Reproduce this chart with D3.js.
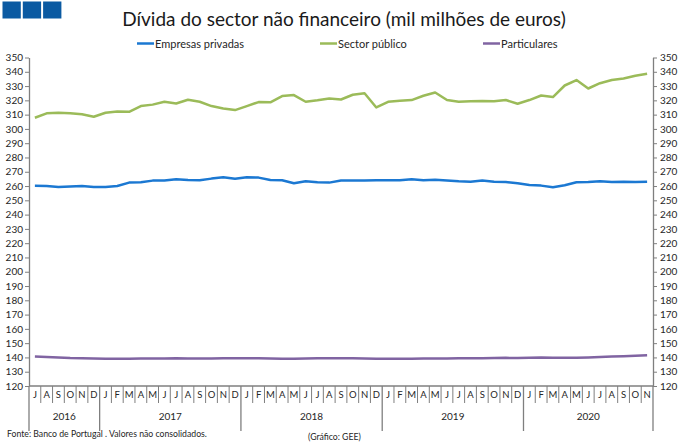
<!DOCTYPE html>
<html><head><meta charset="utf-8">
<script src="https://cdn.jsdelivr.net/npm/d3@7"></script>
<style>body{margin:0;background:#fff}svg{display:block;font-family:Lato,"Open Sans",sans-serif}</style>
</head><body><svg id="c" width="681" height="445"></svg>
<script>
const months = ["J","A","S","O","N","D",
 "J","F","M","A","M","J","J","A","S","O","N","D",
 "J","F","M","A","M","J","J","A","S","O","N","D",
 "J","F","M","A","M","J","J","A","S","O","N","D",
 "J","F","M","A","M","J","J","A","S","O","N"];
const years = ["2016","2017","2018","2019","2020"];
const yearCounts = [6,12,12,12,11];
const empresas = [260.2,260.1,259.3,259.7,260.0,259.3,259.3,260.0,262.4,262.6,263.8,263.8,264.7,264.2,264.0,265.2,266.1,265.1,266.2,265.9,264.2,264.0,261.9,263.3,262.6,262.4,263.9,263.8,263.8,264.0,264.0,264.0,264.7,264.0,264.4,263.8,263.3,263.0,263.8,263.0,262.8,261.9,260.7,260.3,259.1,260.5,262.6,262.8,263.3,262.8,263.0,262.8,263.0];
const publico = [307.8,310.9,311.3,311.0,310.2,308.5,311.3,312.2,312.0,316.0,317.0,319.0,317.8,320.4,319.0,316.0,314.3,313.2,316.0,318.8,318.6,323.0,323.7,319.0,320.0,321.3,320.6,323.9,325.0,315.0,319.0,319.7,320.2,323.2,325.5,320.2,319.0,319.3,319.5,319.3,320.2,317.6,320.2,323.4,322.3,330.4,334.2,328.3,332.0,334.2,335.3,337.2,338.6];
const particulares = [140.6,140.3,140.0,139.6,139.5,139.3,139.1,139.0,139.0,139.2,139.3,139.3,139.4,139.3,139.2,139.2,139.4,139.5,139.5,139.4,139.2,139.1,139.1,139.2,139.4,139.5,139.5,139.4,139.3,139.1,139.0,139.0,139.1,139.2,139.3,139.3,139.4,139.5,139.5,139.6,139.7,139.6,139.7,139.9,139.8,139.7,139.8,140.0,140.3,140.6,140.9,141.2,141.6];
const yTicks = d3.range(120, 351, 10);
const seriesNames = ["Empresas privadas","Sector público","Particulares"];
const colors = ["#1b78d2","#9bbb59","#8064a2"];

const svg = d3.select("#c");
const L = 29, R = 653, T = 57.5, B = 386;
const x = d3.scaleBand().domain(d3.range(months.length)).range([L, R]).paddingInner(0).paddingOuter(0);
const y = d3.scaleLinear().domain([120, 350]).range([B, T]);
const txt = "#262626";

// logo squares
[0,1,2].forEach(i => svg.append("rect").attr("x", 2.5 + i*20.3).attr("y", 1.5).attr("width", 18.3).attr("height", 17).attr("fill", "#0b5aa2"));

// title
svg.append("text").attr("x", 344).attr("y", 26).attr("text-anchor", "middle")
  .attr("font-size", 19).attr("fill", "#1a1a1a").text("Dívida do sector não financeiro (mil milhões de euros)");

// legend
const legX = [137, 320, 483];
seriesNames.forEach((n, i) => {
  svg.append("line").attr("x1", legX[i]).attr("x2", legX[i] + 17).attr("y1", 43.5).attr("y2", 43.5)
    .attr("stroke", colors[i]).attr("stroke-width", 2.5);
  svg.append("text").attr("x", legX[i] + 18).attr("y", 47.5).attr("font-size", 11).attr("fill", txt).text(n);
});

// y axes
const axL = svg.append("g").attr("transform", `translate(${L},0)`)
  .call(d3.axisLeft(y).tickValues(yTicks).tickSize(4).tickSizeOuter(0));
const axR = svg.append("g").attr("transform", `translate(${R},0)`)
  .call(d3.axisRight(y).tickValues(yTicks).tickSize(4).tickSizeOuter(0));
[axL, axR].forEach(a => {
  a.select(".domain").attr("stroke", "#7f7f7f").attr("stroke-width", 1.3);
  a.selectAll(".tick line").attr("stroke", "#7f7f7f");
  a.selectAll(".tick text").attr("font-size", 10).attr("fill", txt).attr("font-family", "Lato,sans-serif");
});
axL.selectAll(".tick text").attr("x", -6);
axR.selectAll(".tick text").attr("x", 7);

// x axis baseline
svg.append("line").attr("x1", L).attr("x2", R).attr("y1", B).attr("y2", B).attr("stroke", "#7f7f7f").attr("stroke-width", 1.3);

// month separators and labels
const yearStarts = [0];
yearCounts.forEach((c, i) => yearStarts.push(yearStarts[i] + c));
months.forEach((m, i) => {
  const xs = x(i);
  const isYear = yearStarts.includes(i);
  if (i > 0) svg.append("line").attr("x1", xs).attr("x2", xs).attr("y1", B).attr("y2", isYear ? 431 : 403)
    .attr("stroke", "#7f7f7f").attr("stroke-width", isYear ? 1.3 : 1);
  svg.append("text").attr("x", xs + x.bandwidth()/2).attr("y", 398).attr("text-anchor", "middle")
    .attr("font-size", 9.5).attr("fill", txt).text(m);
});
// outer edges extended
[L, R].forEach(xx => svg.append("line").attr("x1", xx).attr("x2", xx).attr("y1", B).attr("y2", 431)
  .attr("stroke", "#7f7f7f").attr("stroke-width", 1.3));
years.forEach((yr, i) => {
  const x0 = x(yearStarts[i]);
  const x1 = yearStarts[i+1] < months.length ? x(yearStarts[i+1]) : R;
  svg.append("text").attr("x", (x0 + x1)/2).attr("y", 420).attr("text-anchor", "middle")
    .attr("font-size", 10).attr("fill", txt).text(yr);
});

// lines
const line = d3.line().x((d, i) => x(i) + x.bandwidth()/2).y(d => y(d));
[empresas, publico, particulares].forEach((s, i) => {
  svg.append("path").datum(s).attr("d", line).attr("fill", "none")
    .attr("stroke", colors[i]).attr("stroke-width", 2.5).attr("stroke-linejoin", "round");
});

// footer
svg.append("text").attr("x", 7).attr("y", 437).attr("font-size", 8.7).attr("fill", txt)
  .text("Fonte: Banco de Portugal . Valores não consolidados.");
svg.append("text").attr("x", 308).attr("y", 440).attr("font-size", 8.7).attr("fill", txt)
  .text("(Gráfico: GEE)");
</script></body></html>
